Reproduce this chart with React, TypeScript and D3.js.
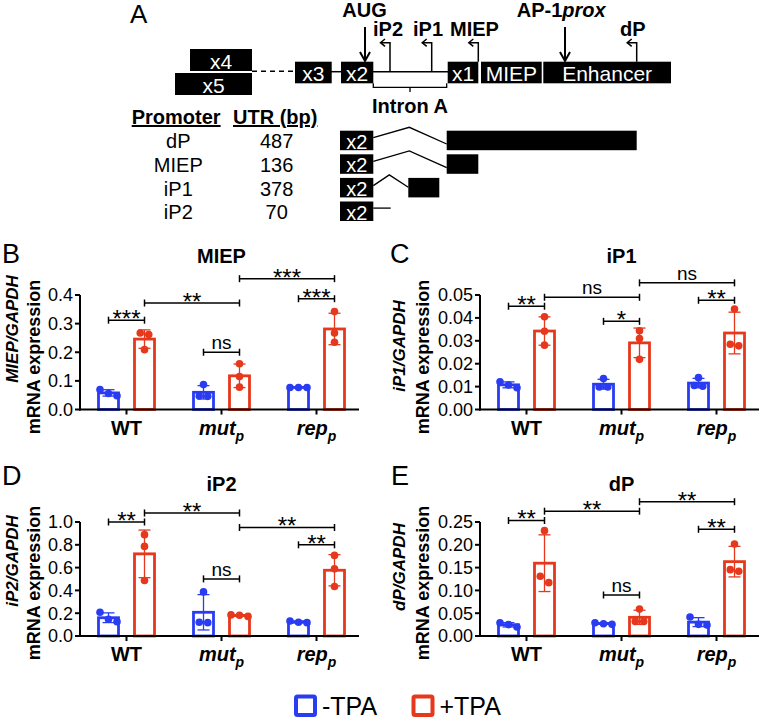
import React from 'react';
import * as d3 from 'd3';

const FONT = "'Liberation Sans', Arial, Helvetica, sans-serif";
const BLUE = '#2a3cf2';
const RED = '#e5381c';

// ---------- data ----------
const categories = ['WT', 'mut', 'rep'];
const conditionLabels = ['-TPA', '+TPA'];

// replicate values per category (WT, mut_p, rep_p)
const miepMinus = [[0.070, 0.056, 0.048], [0.087, 0.047, 0.046], [0.077, 0.077, 0.077]];
const miepPlus = [[0.267, 0.262, 0.209], [0.160, 0.115, 0.078], [0.342, 0.267, 0.235]];
const ip1Minus = [[0.0121, 0.0095, 0.0107], [0.0135, 0.0098, 0.0098], [0.0139, 0.0102, 0.0105]];
const ip1Plus = [[0.0405, 0.0342, 0.0281], [0.0344, 0.0310, 0.0219], [0.0439, 0.0278, 0.0285]];
const ip2Minus = [[0.208, 0.126, 0.147], [0.387, 0.120, 0.117], [0.117, 0.132, 0.120]];
const ip2Plus = [[0.889, 0.786, 0.487], [0.172, 0.185, 0.182], [0.707, 0.589, 0.434]];
const dpMinus = [[0.0197, 0.029, 0.025], [0.0256, 0.029, 0.027], [0.0417, 0.0256, 0.0240]];
const dpPlus = [[0.231, 0.131, 0.117], [0.059, 0.032, 0.032], [0.2017, 0.142, 0.1455]];

const miepTicks = [0, 0.1, 0.2, 0.3, 0.4];
const ip1Ticks = [0, 0.01, 0.02, 0.03, 0.04, 0.05];
const ip2Ticks = [0, 0.2, 0.4, 0.6, 0.8, 1.0];
const dpTicks = [0, 0.05, 0.1, 0.15, 0.2, 0.25];

// significance brackets: [fromCat, fromCond, toCat, toCond, level, label]
const miepBrackets = [
  ['WT', 0, 'WT', 1, 0.312, '***'],
  ['WT', 1, 'mut', 1, 0.372, '**'],
  ['mut', 0, 'mut', 1, 0.2, 'ns'],
  ['mut', 1, 'rep', 1, 0.457, '***'],
  ['rep', 0, 'rep', 1, 0.387, '***'],
];
const ip1Brackets = [
  ['WT', 0, 'WT', 1, 0.0451, '**'],
  ['WT', 1, 'mut', 1, 0.049, 'ns'],
  ['mut', 0, 'mut', 1, 0.0385, '*'],
  ['mut', 1, 'rep', 1, 0.0553, 'ns'],
  ['rep', 0, 'rep', 1, 0.0477, '**'],
];
const ip2Brackets = [
  ['WT', 0, 'WT', 1, 1.0, '**'],
  ['WT', 1, 'mut', 1, 1.079, '**'],
  ['mut', 0, 'mut', 1, 0.501, 'ns'],
  ['mut', 1, 'rep', 1, 0.952, '**'],
  ['rep', 0, 'rep', 1, 0.8, '**'],
];
const dpBrackets = [
  ['WT', 0, 'WT', 1, 0.2533, '**'],
  ['WT', 1, 'mut', 1, 0.2737, '**'],
  ['mut', 0, 'mut', 1, 0.0899, 'ns'],
  ['mut', 1, 'rep', 1, 0.2945, '**'],
  ['rep', 0, 'rep', 1, 0.234, '**'],
];

const promoters = ['dP', 'MIEP', 'iP1', 'iP2'];
const utrLengths = [487, 136, 378, 70];

// ---------- panel ----------
type PanelCfg = {
  letter: string; letterX: number; letterY: number;
  title: string; titleY: number;
  gene: string;
  axisX: number; axisLen: number; y0: number; y1: number;
  max: number; ticks: number[]; fmt: string;
  minus: number[][]; plus: number[][];
  brackets: any[];
  lab1X: number; lab1Y: number; lab2X: number; lab2Y: number;
};

function spread(ys: number[], r: number, step: number): number[] {
  const idx = ys.map((v, i) => i).sort((a, b) => ys[a] - ys[b]);
  const offs = new Array(ys.length).fill(0);
  let cluster: number[] = [];
  const flush = () => {
    const n = cluster.length;
    cluster.forEach((id, j) => { offs[id] = (j - (n - 1) / 2) * step; });
    cluster = [];
  };
  idx.forEach((id) => {
    if (cluster.length && ys[id] - ys[cluster[cluster.length - 1]] > 2 * r) flush();
    cluster.push(id);
  });
  flush();
  return offs;
}

function CatLabel({ c, x, y }: { c: string; x: number; y: number }) {
  if (c === 'WT') {
    return <text x={x} y={y} textAnchor="middle" fontSize={20} fontWeight="bold">WT</text>;
  }
  return (
    <text x={x} y={y} textAnchor="middle" fontSize={20} fontWeight="bold" fontStyle="italic">
      {c}<tspan fontSize={14} dy={6}>p</tspan>
    </text>
  );
}

function Panel({ cfg }: { cfg: PanelCfg }) {
  const y = d3.scaleLinear().domain([0, cfg.max]).range([cfg.y0, cfg.y1]);
  const x = d3.scaleBand().domain(categories).range([cfg.axisX - 1, cfg.axisX + 284]);
  const cx = (c: string) => (x(c) as number) + x.bandwidth() / 2;
  const off = [-18, 18];
  const colors = [BLUE, RED];
  const series = [cfg.minus, cfg.plus];
  const fmt = d3.format(cfg.fmt);
  const barW = 20;
  const r = 3.8;
  const xAxisEnd = cfg.axisX + cfg.axisLen;
  const titleX = cx('mut');

  return (
    <g>
      <text x={cfg.letterX} y={cfg.letterY} fontSize={27}>{cfg.letter}</text>
      <text x={titleX} y={cfg.titleY} textAnchor="middle" fontSize={20} fontWeight="bold">{cfg.title}</text>
      {/* y label */}
      <text transform={`translate(${cfg.lab1X},${cfg.lab1Y}) rotate(-90)`} textAnchor="middle"
        fontSize={17} fontWeight="bold" fontStyle="italic">{cfg.gene}/GAPDH</text>
      <text transform={`translate(${cfg.lab2X},${cfg.lab2Y}) rotate(-90)`} textAnchor="middle"
        fontSize={18} fontWeight="bold">mRNA expression</text>

      {/* bars, error bars and points */}
      {categories.map((c, i) =>
        series.map((s, k) => {
          const pts = s[i];
          const m = d3.mean(pts) as number;
          const sd = d3.deviation(pts) as number;
          const bx = cx(c) + off[k];
          const col = colors[k];
          const pys = pts.map((v) => y(v));
          const offs = spread(pys, r, 8.5);
          return (
            <g key={c + k}>
              <rect x={bx - barW / 2} y={y(m)} width={barW} height={cfg.y0 - y(m)}
                fill="white" stroke={col} strokeWidth={2.8} />
              <line x1={bx} x2={bx} y1={y(m - sd)} y2={y(m + sd)} stroke={col} strokeWidth={1.3} />
              <line x1={bx - 6} x2={bx + 6} y1={y(m + sd)} y2={y(m + sd)} stroke={col} strokeWidth={1.3} />
              <line x1={bx - 6} x2={bx + 6} y1={y(m - sd)} y2={y(m - sd)} stroke={col} strokeWidth={1.3} />
              {pts.map((v, j) => (
                <circle key={j} cx={bx + offs[j]} cy={y(v)} r={r} fill={col} />
              ))}
            </g>
          );
        })
      )}

      {/* axes */}
      <line x1={cfg.axisX} x2={cfg.axisX} y1={cfg.y0 + 1} y2={cfg.y1} stroke="black" strokeWidth={2} />
      <line x1={cfg.axisX - 1} x2={xAxisEnd} y1={cfg.y0} y2={cfg.y0} stroke="black" strokeWidth={2} />
      {cfg.ticks.map((t) => (
        <g key={t}>
          <line x1={cfg.axisX - 5} x2={cfg.axisX} y1={y(t)} y2={y(t)} stroke="black" strokeWidth={2} />
          <text x={cfg.axisX - 7} y={y(t)} dy="0.36em" textAnchor="end" fontSize={18}>{fmt(t)}</text>
        </g>
      ))}
      {categories.map((c) => (
        <g key={c}>
          <line x1={cx(c)} x2={cx(c)} y1={cfg.y0} y2={cfg.y0 + 5} stroke="black" strokeWidth={2} />
          <CatLabel c={c} x={cx(c)} y={cfg.y0 + 25} />
        </g>
      ))}

      {/* brackets */}
      {cfg.brackets.map((b, i) => {
        const xa = cx(b[0]) + off[b[1]];
        const xb = cx(b[2]) + off[b[3]];
        const yy = y(b[4]);
        const lab = b[5] as string;
        const isNs = lab === 'ns';
        return (
          <g key={i}>
            <line x1={xa} x2={xb} y1={yy} y2={yy} stroke="black" strokeWidth={1.5} />
            <line x1={xa} x2={xa} y1={yy - 3.5} y2={yy + 3.5} stroke="black" strokeWidth={1.5} />
            <line x1={xb} x2={xb} y1={yy - 3.5} y2={yy + 3.5} stroke="black" strokeWidth={1.5} />
            <text x={(xa + xb) / 2} y={isNs ? yy - 3 : yy + 7} textAnchor="middle"
              fontSize={isNs ? 19 : 24}>{lab}</text>
          </g>
        );
      })}
    </g>
  );
}

// ---------- panel A ----------
function PanelA() {
  const lineY = 71.7;
  const boxY = 61.7;
  const boxH = 21.6;
  const boxes = [
    { x: 190, y: 49, w: 62, h: 22, t: 'x4' },
    { x: 175, y: 73, w: 77, h: 22, t: 'x5' },
    { x: 295, y: boxY, w: 36.7, h: boxH, t: 'x3' },
    { x: 341, y: boxY, w: 32.3, h: boxH, t: 'x2' },
    { x: 447.7, y: boxY, w: 30.6, h: boxH, t: 'x1' },
    { x: 481, y: boxY, w: 60.7, h: boxH, t: 'MIEP' },
    { x: 543.3, y: boxY, w: 127.7, h: boxH, t: 'Enhancer' },
  ];
  const downArrow = (ax: number) => (
    <g>
      <line x1={ax} x2={ax} y1={27} y2={61} stroke="black" strokeWidth={2} />
      <polyline points={`${ax - 5},${52} ${ax},${61} ${ax + 5},${52}`} fill="none" stroke="black" strokeWidth={2} />
    </g>
  );
  const bent = (ax: number, base: number) => (
    <g>
      <polyline points={`${ax},${base} ${ax},${42.7} ${ax - 9},${42.7}`} fill="none" stroke="black" strokeWidth={1.5} />
      <polyline points={`${ax - 5},${39} ${ax - 9.5},${42.7} ${ax - 5},${46.4}`} fill="none" stroke="black" strokeWidth={1.5} />
    </g>
  );
  const rowTop = (i: number) => 130.7 + i * 23.6;
  const rowBase = (i: number) => 148.3 + i * 23.7;
  return (
    <g>
      <text x={130} y={23} fontSize={26}>A</text>
      {/* gene line */}
      <line x1={252} x2={295} y1={lineY - 0.5} y2={lineY - 0.5} stroke="black" strokeWidth={1.5} strokeDasharray="5,4" />
      <line x1={331} x2={342} y1={lineY} y2={lineY} stroke="black" strokeWidth={1.5} />
      <line x1={373} x2={448} y1={lineY} y2={lineY} stroke="black" strokeWidth={1.5} />
      {/* intron bracket */}
      <polyline points={`373.3,83.3 373.3,87.3 446.7,87.3 446.7,83.3`} fill="none" stroke="black" strokeWidth={1.3} />
      <line x1={410} x2={410} y1={87.3} y2={92} stroke="black" strokeWidth={1.3} />
      <text x={410} y={113} textAnchor="middle" fontSize={20} fontWeight="bold">Intron A</text>
      {boxes.map((b) => (
        <g key={b.t}>
          <rect x={b.x} y={b.y} width={b.w} height={b.h} fill="black" />
          <text x={b.x + b.w / 2} y={b.y + b.h - 2.5} textAnchor="middle" fontSize={21} fill="white">{b.t}</text>
        </g>
      ))}
      {downArrow(365)}
      {downArrow(565)}
      {bent(390, lineY)}
      {bent(431.7, lineY)}
      {bent(478.3, boxY)}
      {bent(636.7, boxY)}
      <text x={364.5} y={17} textAnchor="middle" fontSize={20} fontWeight="bold">AUG</text>
      <text x={373} y={36} fontSize={20} fontWeight="bold">iP2</text>
      <text x={413} y={36} fontSize={20} fontWeight="bold">iP1</text>
      <text x={450} y={36} fontSize={20} fontWeight="bold">MIEP</text>
      <text x={620} y={36} fontSize={20} fontWeight="bold">dP</text>
      <text x={516.7} y={17} fontSize={20} fontWeight="bold">AP-1<tspan fontStyle="italic">prox</tspan></text>

      {/* table */}
      <text x={131.7} y={124} fontSize={20} fontWeight="bold" textDecoration="underline">Promoter</text>
      <text x={233} y={124} fontSize={20} fontWeight="bold" textDecoration="underline">UTR (bp)</text>
      {promoters.map((p, i) => (
        <g key={p}>
          <text x={178.3} y={rowBase(i)} textAnchor="middle" fontSize={20}>{p}</text>
          <text x={276.7} y={rowBase(i)} textAnchor="middle" fontSize={20}>{utrLengths[i]}</text>
          <rect x={340} y={rowTop(i)} width={33.3} height={19.5} fill="black" />
          <text x={356.7} y={rowTop(i) + 18} textAnchor="middle" fontSize={20} fill="white">x2</text>
        </g>
      ))}
      {/* transcripts */}
      <polyline points={`373.3,${rowTop(0) + 7} 409.3,${rowTop(0) - 3.4} 446.7,${rowTop(0) + 13.3}`} fill="none" stroke="black" strokeWidth={1.3} />
      <rect x={446.7} y={rowTop(0)} width={190} height={19.5} fill="black" />
      <polyline points={`373.3,${rowTop(1) + 7} 409.3,${rowTop(1) - 3.4} 446.7,${rowTop(1) + 13.3}`} fill="none" stroke="black" strokeWidth={1.3} />
      <rect x={446.7} y={rowTop(1)} width={31.6} height={19.5} fill="black" />
      <polyline points={`373.3,${rowTop(2) + 7.7} 389.3,${rowTop(2) - 3} 408.3,${rowTop(2) + 9.4}`} fill="none" stroke="black" strokeWidth={1.3} />
      <rect x={408.3} y={rowTop(2)} width={31} height={19.5} fill="black" />
      <line x1={373.3} x2={390.7} y1={rowTop(3) + 6.6} y2={rowTop(3) + 6.6} stroke="black" strokeWidth={1.3} />
    </g>
  );
}

const panels: PanelCfg[] = [
  {
    letter: 'B', letterX: 2, letterY: 263, title: 'MIEP', titleY: 263, gene: 'MIEP',
    axisX: 80, axisLen: 279, y0: 409.5, y1: 295, max: 0.4, ticks: miepTicks, fmt: '.1f',
    minus: miepMinus, plus: miepPlus, brackets: miepBrackets,
    lab1X: 18, lab1Y: 329, lab2X: 40, lab2Y: 357,
  },
  {
    letter: 'C', letterX: 390, letterY: 263, title: 'iP1', titleY: 263, gene: 'iP1',
    axisX: 480, axisLen: 279, y0: 409.5, y1: 295, max: 0.05, ticks: ip1Ticks, fmt: '.2f',
    minus: ip1Minus, plus: ip1Plus, brackets: ip1Brackets,
    lab1X: 405, lab1Y: 346, lab2X: 429, lab2Y: 357,
  },
  {
    letter: 'D', letterX: 2, letterY: 485, title: 'iP2', titleY: 491, gene: 'iP2',
    axisX: 80, axisLen: 279, y0: 636, y1: 522, max: 1.0, ticks: ip2Ticks, fmt: '.1f',
    minus: ip2Minus, plus: ip2Plus, brackets: ip2Brackets,
    lab1X: 18, lab1Y: 561, lab2X: 40, lab2Y: 583,
  },
  {
    letter: 'E', letterX: 391, letterY: 485, title: 'dP', titleY: 491, gene: 'dP',
    axisX: 480, axisLen: 279, y0: 636, y1: 522, max: 0.25, ticks: dpTicks, fmt: '.2f',
    minus: dpMinus, plus: dpPlus, brackets: dpBrackets,
    lab1X: 405, lab1Y: 567, lab2X: 429, lab2Y: 583,
  },
];

function Legend() {
  const items = [
    { x: 296, col: BLUE, t: conditionLabels[0] },
    { x: 413.5, col: RED, t: conditionLabels[1] },
  ];
  return (
    <g>
      {items.map((it) => (
        <g key={it.t}>
          <rect x={it.x} y={696.5} width={19} height={18.5} fill="white" stroke={it.col} strokeWidth={4} rx={1.5} />
          <text x={it.x + 26} y={714.5} fontSize={25}>{it.t}</text>
        </g>
      ))}
    </g>
  );
}

export default function App() {
  return (
    <svg width={762} height={721} style={{ position: 'absolute', left: 0, top: 0, background: 'white' }}
      fontFamily={FONT}>
      <rect width={762} height={721} fill="white" />
      <PanelA />
      {panels.map((p) => <Panel key={p.letter} cfg={p} />)}
      <Legend />
    </svg>
  );
}
